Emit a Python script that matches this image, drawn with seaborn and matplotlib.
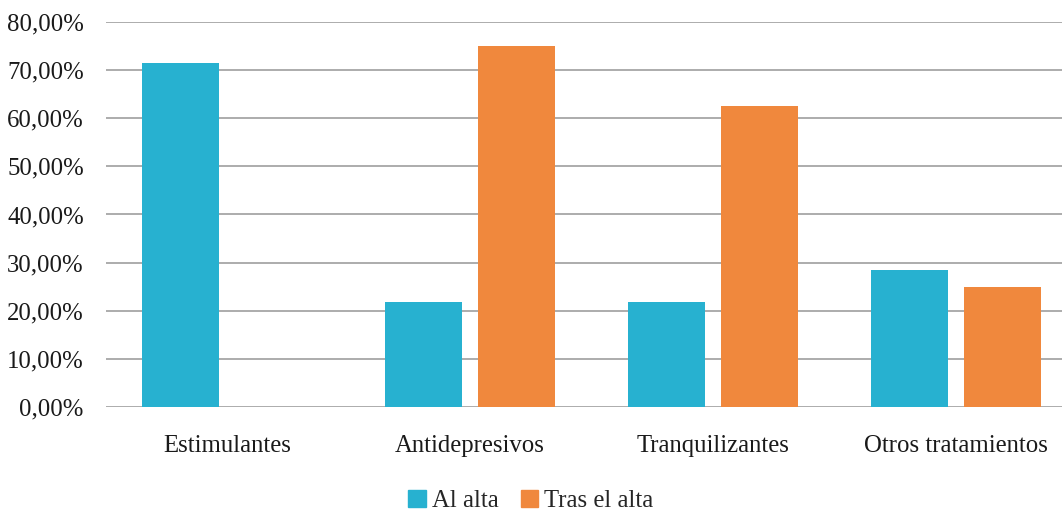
import pandas as pd
import seaborn as sns
import matplotlib.pyplot as plt
from matplotlib.ticker import FuncFormatter
from matplotlib.patches import Patch

categories = ["Estimulantes", "Antidepresivos", "Tranquilizantes", "Otros tratamientos"]
al_alta = [0.7143, 0.2188, 0.2188, 0.2857]
tras_alta = [0.0, 0.75, 0.625, 0.25]
series = ["Al alta", "Tras el alta"]
colors = ["#27b1d0", "#f0883d"]

df = pd.DataFrame({
    "categoria": categories * 2,
    "serie": [series[0]] * 4 + [series[1]] * 4,
    "valor": al_alta + tras_alta,
})

sns.set_style("white")
plt.rcParams["font.family"] = ["Liberation Serif", "DejaVu Serif"]

fig = plt.figure(figsize=(10.62, 5.15), dpi=100)
ax = fig.add_axes([106 / 1062, 108 / 515, 971 / 1062, 385 / 515])

sns.barplot(data=df, x="categoria", y="valor", hue="serie", palette=colors,
            width=0.766, gap=0.17, ax=ax, legend=False, saturation=1, linewidth=0)

ax.set_xlim(-0.5, 3.5)
ax.set_ylim(0, 0.8)
ax.set_yticks([i / 10 for i in range(9)])
ax.yaxis.set_major_formatter(FuncFormatter(lambda v, p: f"{v * 100:.2f}%".replace(".", ",")))
ax.grid(axis="y", color="#a6a6a6", linewidth=1.3)
ax.set_axisbelow(True)
for s in ax.spines.values():
    s.set_visible(False)
ax.tick_params(axis="both", length=0, labelsize=17.8, colors="#1a1a1a")
ax.tick_params(axis="y", pad=16)
ax.tick_params(axis="x", pad=20)
ax.set_xlabel("")
ax.set_ylabel("")

handles = [Patch(color=c, label=l) for c, l in zip(colors, series)]
fig.legend(handles=handles, loc="lower center", bbox_to_anchor=(0.5, -0.038), ncol=2,
           frameon=False, fontsize=17.8, handlelength=0.7, handleheight=0.7,
           handletextpad=0.25, columnspacing=0.9)

fig.savefig("out.png", dpi=100)
